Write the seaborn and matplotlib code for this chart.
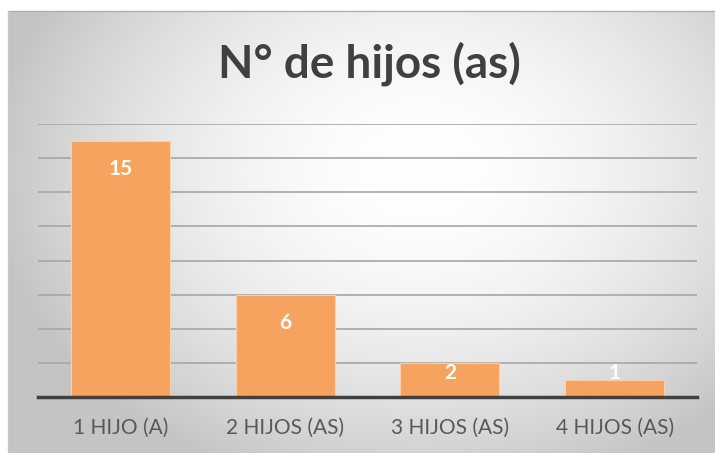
import numpy as np
import pandas as pd
import seaborn as sns
import matplotlib.pyplot as plt

categorias = ["1 HIJO (A)", "2 HIJOS (AS)", "3 HIJOS (AS)", "4 HIJOS (AS)"]
cantidades = [15, 6, 2, 1]
titulo = "N° de hijos (as)"

sns.set_theme(style="white")
plt.rcParams["font.family"] = ["Lato", "DejaVu Sans"]

fig = plt.figure(figsize=(7.15, 4.53), dpi=100)

# fondo con degradado radial (blanco al centro, gris en los bordes)
bg = fig.add_axes([0, 0, 1, 1], zorder=0)
yy, xx = np.mgrid[0:453, 0:715]
r = np.sqrt(((xx - 420) / 430.0) ** 2 + ((yy - 170) / 330.0) ** 2)
g = np.clip(1.0 - 0.23 * r ** 1.8, 0.77, 1.0)
img = np.dstack([g, g, g])
img[:11, :, :] = 1.0
img[:, :8, :] = 1.0
bg.imshow(img, aspect="auto", extent=[0, 715, 453, 0])
bg.plot([8, 715], [11, 11], color="#b0b0b0", lw=1)
bg.plot([8, 8], [11, 453], color="#c8c8c8", lw=1)
bg.set_xlim(0, 715)
bg.set_ylim(453, 0)
bg.axis("off")

ax = fig.add_axes([38 / 715, 1 - 397 / 453, 659 / 715, 273 / 453], zorder=1)
ax.patch.set_alpha(0)

df = pd.DataFrame({"categoria": categorias, "cantidad": cantidades})
sns.barplot(data=df, x="categoria", y="cantidad", color="#F5A35E", width=0.6,
            saturation=1, edgecolor="#fbd0a8", linewidth=0.8, ax=ax, zorder=3)

ax.set_ylim(0, 16)
ax.set_xlim(-0.5, 3.5)
ax.set_yticks(np.arange(0, 17, 2))
ax.yaxis.grid(True, color="#a6a6a6", lw=1.2, zorder=0)
ax.set_yticklabels([])
ax.tick_params(axis="y", length=0)
ax.tick_params(axis="x", length=0, pad=15, labelsize=15, labelcolor="#595959")
for s in ["top", "right", "left"]:
    ax.spines[s].set_visible(False)
ax.spines["bottom"].set_color("#404040")
ax.spines["bottom"].set_linewidth(2.5)
ax.spines["bottom"].set_zorder(4)
ax.set_xlabel("")
ax.set_ylabel("")

for i, v in enumerate(cantidades):
    ax.text(i, max(v - 1.65, 1.42), str(v), ha="center", va="center",
            color="white", fontsize=15, fontweight="bold", zorder=5)

fig.text(369 / 715, 1 - 64 / 453, titulo, ha="center", va="center",
         fontsize=33, fontweight="bold", color="#404040")

fig.savefig("out.png", dpi=100)
